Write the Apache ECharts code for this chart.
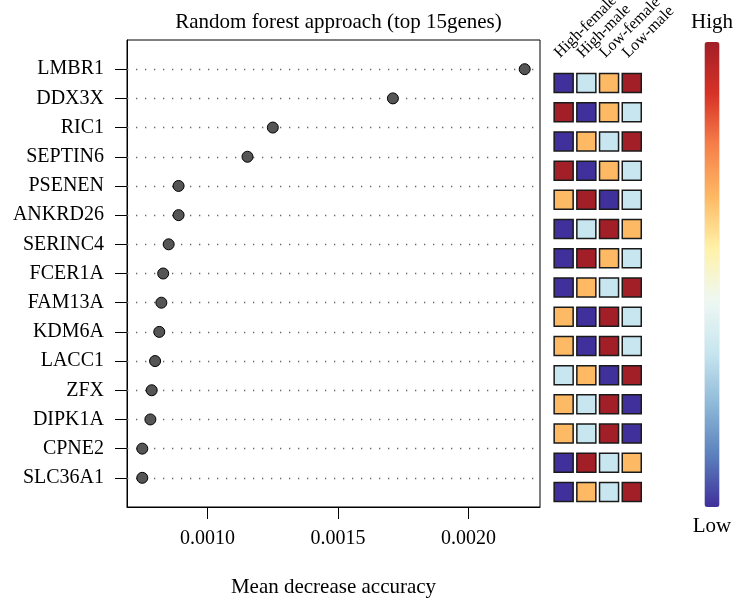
<!DOCTYPE html>
<html>
<head>
<meta charset="utf-8">
<script src="https://cdn.jsdelivr.net/npm/echarts@6/dist/echarts.min.js"></script>
<style>html,body{margin:0;padding:0;background:#fff}#c{width:748px;height:603px}</style>
</head>
<body>
<div id="c"></div>
<script>
const genes = ['LMBR1','DDX3X','RIC1','SEPTIN6','PSENEN','ANKRD26','SERINC4','FCER1A','FAM13A','KDM6A','LACC1','ZFX','DIPK1A','CPNE2','SLC36A1'];
const accuracy = [0.002215, 0.001710, 0.001250, 0.001153, 0.000889, 0.000889, 0.000851, 0.000830, 0.000823, 0.000815, 0.000799, 0.000786, 0.000781, 0.000750, 0.000750];
const groups = ['High-female','High-male','Low-female','Low-male'];
const expr = [
  [1,2,3,4],[4,1,3,2],[1,3,2,4],[4,1,3,2],[3,4,1,2],
  [1,2,4,3],[1,4,3,2],[1,3,2,4],[3,1,4,2],[3,1,4,2],
  [2,3,1,4],[3,2,4,1],[3,2,4,1],[1,4,2,3],[1,3,2,4]
];
const xTicks = [0.0010, 0.0015, 0.0020];
const rampColors = ['#40309B','#5B80BD','#8FBAD8','#C8E6F0','#EEF8F2','#FFF2A8','#FDB964','#F6804A','#D73227','#A21F27'];

const FONT = 'Liberation Serif';
const lo = Math.min(...accuracy), hi = Math.max(...accuracy);
const pad = (hi - lo) * 0.04;
const rowIdx = genes.map((g, i) => i + 1);

const dotData = accuracy.map((v, i) => [v, i + 1]);
const heatData = [];
expr.forEach((row, r) => row.forEach((v, c) => heatData.push([c, r, v])));

const chart = echarts.init(document.getElementById('c'), null, {renderer: 'canvas'});
chart.setOption({
  animation: false,
  textStyle: {fontFamily: FONT, color: '#000'},
  title: {
    text: 'Random forest approach (top 15genes)',
    left: 333.5, textAlign: 'center', top: 7,
    textStyle: {fontFamily: FONT, fontSize: 21, fontWeight: 'normal', color: '#000'}
  },
  grid: [
    {left: 127, top: 40, width: 413, height: 467, show: true, borderColor: '#000', borderWidth: 1, containLabel: false},
    {left: 552.3, top: 68.4, width: 90.8, height: 438.2, containLabel: false}
  ],
  xAxis: [
    {
      type: 'value', gridIndex: 0, min: lo - pad, max: hi + pad,
      axisLine: {show: true, onZero: false, lineStyle: {color: '#000', width: 1}},
      axisTick: {show: true, customValues: xTicks, length: 12, lineStyle: {color: '#000'}},
      axisLabel: {customValues: xTicks, margin: 22, fontSize: 20, fontFamily: FONT, color: '#000',
        formatter: v => v.toFixed(4)},
      splitLine: {show: false},
      name: 'Mean decrease accuracy', nameLocation: 'middle', nameGap: 70,
      nameTextStyle: {fontSize: 21, fontFamily: FONT, color: '#000'}
    },
    {
      type: 'category', gridIndex: 1, data: groups, position: 'top',
      axisLine: {show: false}, axisTick: {show: false}, axisLabel: {show: false}
    }
  ],
  yAxis: [
    {
      type: 'value', gridIndex: 0, min: 0, max: 16, inverse: true,
      axisLine: {show: true, onZero: false, lineStyle: {color: '#000', width: 1}},
      axisTick: {show: true, customValues: rowIdx, length: 12, lineStyle: {color: '#000'}},
      axisLabel: {customValues: rowIdx, margin: 23, fontSize: 20, fontFamily: FONT, color: '#000',
        formatter: v => genes[v - 1] || ''},
      splitLine: {show: false}
    },
    {
      type: 'category', gridIndex: 1, data: genes, inverse: true, show: false
    }
  ],
  visualMap: {
    type: 'continuous', seriesIndex: 1, dimension: 2, min: 1, max: 4,
    calculable: false, orient: 'vertical',
    left: 676, top: -3, itemWidth: 15, itemHeight: 465,
    text: ['High', 'Low'], textGap: 9,
    textStyle: {fontSize: 21, fontFamily: FONT, color: '#000'},
    inRange: {color: rampColors}
  },
  series: [
    {
      type: 'scatter', xAxisIndex: 0, yAxisIndex: 0, data: dotData,
      symbol: 'circle', symbolSize: 11, z: 5,
      itemStyle: {color: '#555', borderColor: '#000', borderWidth: 1, opacity: 1},
      markLine: {
        silent: true, symbol: ['none', 'none'], label: {show: false},
        lineStyle: {color: '#666', width: 1.3, type: [1.3, 7.7]},
        data: rowIdx.map(i => ({yAxis: i}))
      }
    },
    {
      type: 'scatter', xAxisIndex: 1, yAxisIndex: 1, data: heatData,
      symbol: 'rect', symbolSize: 19,
      itemStyle: {borderColor: '#1a1a1a', borderWidth: 1.5, opacity: 1}
    }
  ]
});

// rotated column labels, anchored at each heatmap column via the category axis
const labelGraphics = groups.map((g, i) => {
  const px = chart.convertToPixel({xAxisIndex: 1}, g);
  return {
    type: 'text', x: px - 1, y: 61, rotation: Math.PI / 4,
    style: {
      text: g, font: '16px "Liberation Serif"', fill: '#000',
      align: 'left', verticalAlign: 'bottom',
      textAlign: 'left', textVerticalAlign: 'bottom'
    }
  };
});
chart.setOption({graphic: labelGraphics});
</script>
</body>
</html>
